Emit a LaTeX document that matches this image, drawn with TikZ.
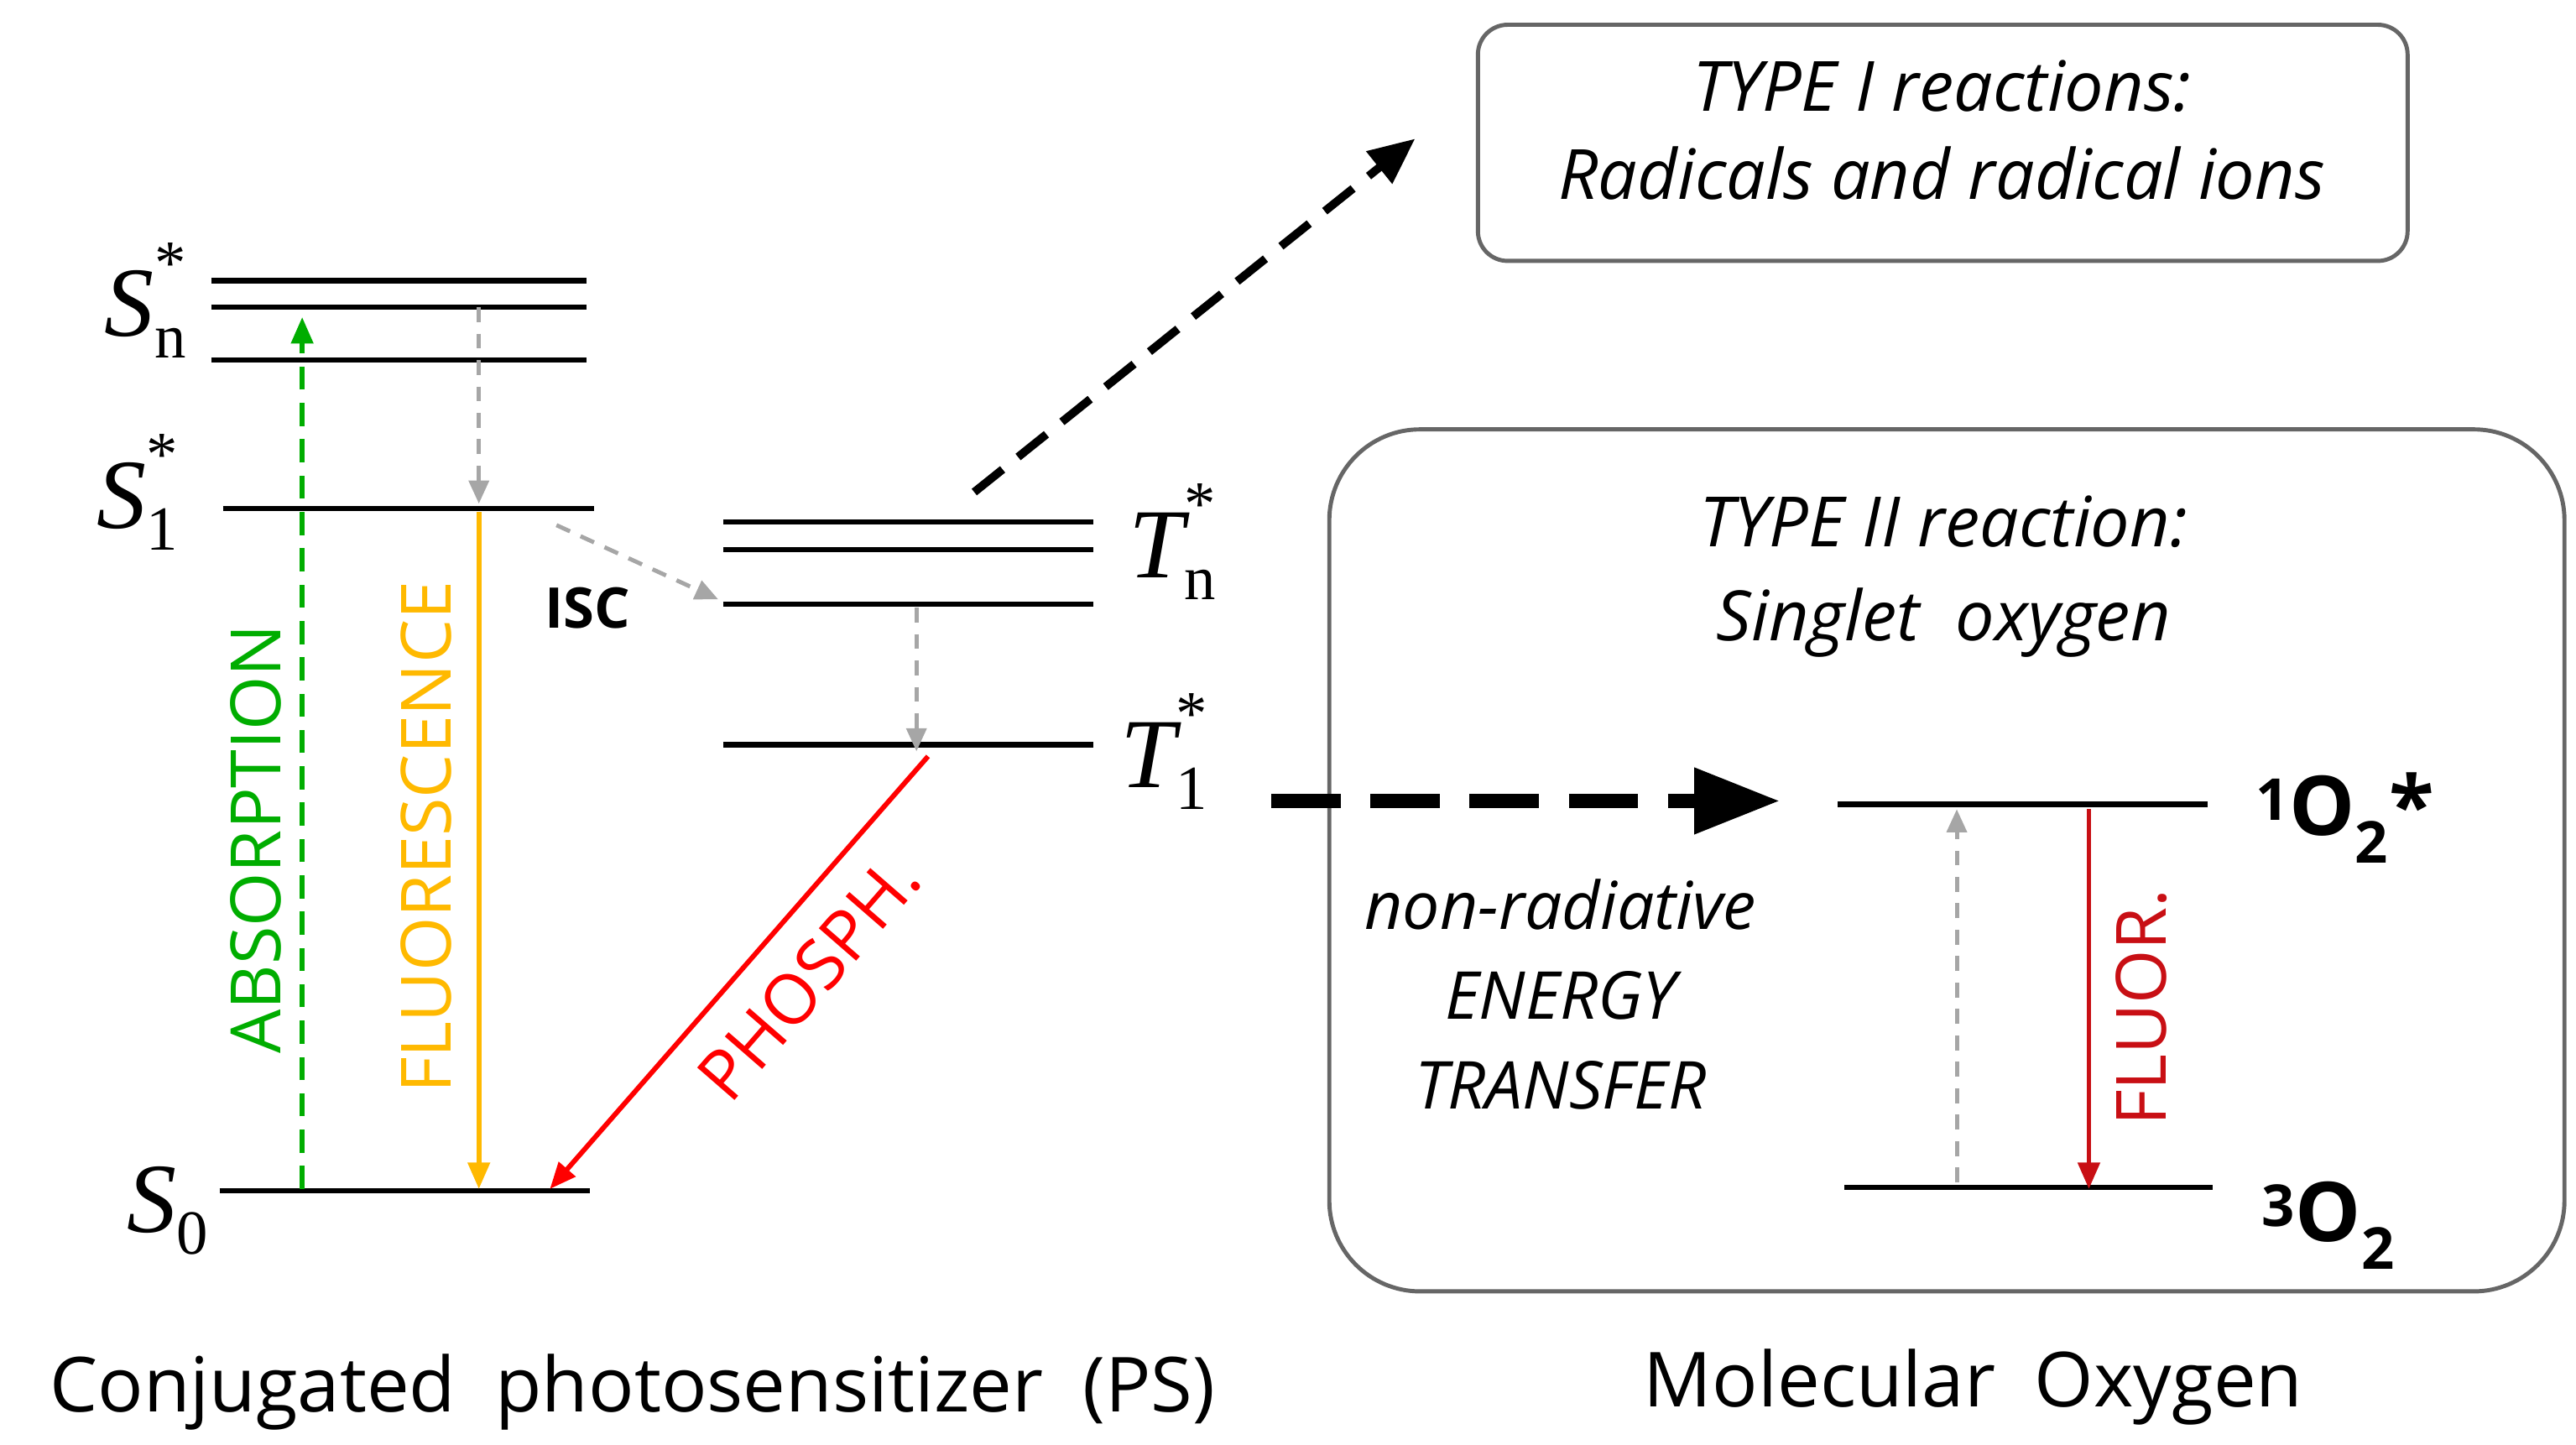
\documentclass[tikz,border=0pt]{standalone}
\usepackage{fontspec}
\setmainfont{Open Sans}
\newfontfamily\serf{Liberation Serif}
\usetikzlibrary{arrows.meta}
\newcommand{\lvl}[3]{{\itshape #1}\hspace{0pt}\raisebox{-0.22em}{\makebox[0pt][l]{\fontsize{38}{38}\selectfont\upshape #2}\raisebox{0.75em}{\fontsize{38}{38}\selectfont\upshape #3}}}
\begin{document}
\begin{tikzpicture}[x=1pt,y=-1pt,
  lev/.style={line width=3.2pt},
  lab/.style={font=\serf\fontsize{60}{60}\selectfont,anchor=center},
  txt/.style={font=\fontsize{42}{46}\selectfont},
  itx/.style={font=\fontsize{42}{46}\selectfont\itshape},
  gd/.style={gray!70,line width=2.5pt,dash pattern=on 9pt off 7pt,-{Triangle[length=14pt,width=12pt]}},
  sol/.style={line width=3pt,-{Triangle[length=16pt,width=13pt]}},
  box/.style={draw=gray!80!black,line width=2.5pt,rounded corners=#1}]
\useasboundingbox (0,0) rectangle (1560,875);
% singlet levels
\draw[lev] (128,170) -- (355,170);
\draw[lev] (128,186) -- (355,186);
\draw[lev] (128,218) -- (355,218);
\draw[lev] (135,308) -- (360,308);
\draw[lev] (133,721) -- (357,721);
\node[lab] (snl) at (88,182) {\lvl{S}{n}{*}};
\node[lab] (s1l) at (83,298) {\lvl{S}{1}{*}};
\node[lab] (s0l) at (92,733) {\lvl{S}{0}{}};
% triplet levels
\draw[lev] (438,316) -- (662,316);
\draw[lev] (438,333) -- (662,333);
\draw[lev] (438,366) -- (662,366);
\draw[lev] (438,451) -- (662,451);
\node[lab] (tnl) at (710,328) {\lvl{T}{n}{*}};
\node[lab] (t1l) at (705,455) {\lvl{T}{1}{*}};
% arrows
\coordinate (a0) at (183,720); \coordinate (a1) at (183,192);
\draw[green!60!black!80!green,line width=3pt,dash pattern=on 14pt off 8pt,-{Triangle[length=16pt,width=13pt]}] (a0) -- (a1);
\node[txt,green!60!black!80!green,rotate=90] (abs) at (155,508) {ABSORPTION};
\coordinate (g0) at (290,186); \coordinate (g1) at (290,305);
\draw[gd] (g0) -- (g1);
\coordinate (f0) at (290,310); \coordinate (f1) at (290,720);
\draw[sol,color={rgb,255:red,255;green,185;blue,0}] (f0) -- (f1);
\node[txt,color={rgb,255:red,255;green,185;blue,0},rotate=90] (flu) at (258,507) {FLUORESCENCE};
\coordinate (i0) at (337,318); \coordinate (i1) at (435,363);
\draw[gd] (i0) -- (i1);
\node[font=\fontsize{34}{36}\selectfont\bfseries] (isc) at (356,368) {ISC};
\coordinate (h0) at (555,368); \coordinate (h1) at (555,455);
\draw[gd] (h0) -- (h1);
\coordinate (p0) at (562,458); \coordinate (p1) at (333,720);
\draw[sol,red] (p0) -- (p1);
\node[txt,red,rotate=49] (ph) at (490,592) {PHOSPH.};
\coordinate (b0) at (590,298); \coordinate (b1) at (857,84);
\draw[line width=5pt,dash pattern=on 22pt off 12pt,-{Triangle[length=28pt,width=24pt]}] (b0) -- (b1);
% boxes
\draw[box=18pt] (895,15) rectangle (1458,158);
\node[itx] (t1a) at (1176,52) {TYPE I reactions:};
\node[itx] (t1b) at (1176,105) {Radicals and radical ions};
\draw[box=55pt] (805,260) rectangle (1553,782);
\node[itx] (t2a) at (1177,316) {TYPE II reaction:};
\node[itx] (t2b) at (1177,377) {Singlet\ \ oxygen};
\coordinate (e0) at (770,485); \coordinate (e1) at (1078,485);
\draw[line width=9pt,dash pattern=on 42pt off 18pt,-{Triangle[length=52pt,width=38pt]}] (e0) -- (e1);
\node[itx,font=\fontsize{40}{44}\selectfont\itshape] (n1) at (945,548) {non-radiative};
\node[itx,font=\fontsize{40}{44}\selectfont\itshape] (n2) at (945,603) {ENERGY};
\node[itx,font=\fontsize{40}{44}\selectfont\itshape] (n3) at (945,657) {TRANSFER};
% oxygen levels
\draw[lev] (1113,487) -- (1337,487);
\draw[lev] (1117,719) -- (1340,719);
\node[font=\fontsize{50}{52}\selectfont\bfseries] (o1) at (1420,495) {\textsuperscript{1}O\textsubscript{2}*};
\node[font=\fontsize{50}{52}\selectfont\bfseries] (o3) at (1410,742) {\textsuperscript{3}O\textsubscript{2}};
\coordinate (u0) at (1185,716); \coordinate (u1) at (1185,490);
\draw[gd] (u0) -- (u1);
\coordinate (r0) at (1265,490); \coordinate (r1) at (1265,720);
\draw[sol,color={rgb,255:red,200;green,15;blue,20}] (r0) -- (r1);
\node[txt,color={rgb,255:red,200;green,15;blue,20},rotate=90] (fl) at (1297,610) {FLUOR.};
% captions
\node[font=\fontsize{46}{50}\selectfont] (c1) at (383,843) {Conjugated\ \ photosensitizer\ \ (PS)};
\node[font=\fontsize{46}{50}\selectfont] (c2) at (1195,840) {Molecular\ \ Oxygen};
\end{tikzpicture}
\end{document}
